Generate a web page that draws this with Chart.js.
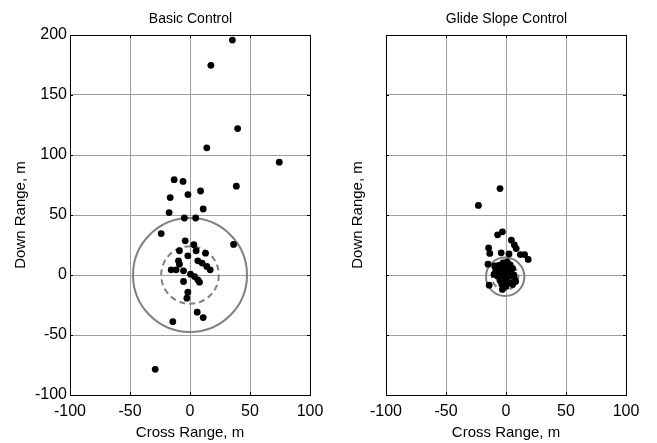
<!DOCTYPE html>
<html>
<head>
<meta charset="utf-8">
<script src="https://cdn.jsdelivr.net/npm/chart.js@4/dist/chart.umd.min.js"></script>
<style>
html,body{margin:0;padding:0;background:#fff;overflow:hidden;width:657px;height:443px;}
.box{position:absolute;top:0;width:381px;height:443px;}
#b1{left:0;} #b2{left:316px;}
</style>
</head>
<body>
<div class="box" id="b1"><canvas id="c1" width="381" height="443"></canvas></div>
<div class="box" id="b2"><canvas id="c2" width="381" height="443"></canvas></div>
<script>
// ---- data ----
const titles = ['Basic Control', 'Glide Slope Control'];
const xTitle = 'Cross Range, m';
const yTitle = 'Down Range, m';
const xTickValues = [-100, -50, 0, 50, 100];
const yTickValues = [-100, -50, 0, 50, 100, 150, 200];

const basicX = [35.3, 17.4, 39.7, 14, 74.4, -13.2, -5.8, 38.6, 8.8, -1.7, -16.5, 11, -17.4, -4.7, 4.7,
  -24, 36.3, -4, 3.2, -8.8, 5.1, 12.9, -1.8, -9.6, -8.8, 6.5, 10.1, 14, 16.8, -15.7, -11.5, -5.4,
  0.4, 3.8, 6.5, 7.9, -5.4, -1.8, -2.6, 6, 11, -14.3, -29];
const basicY = [195.8, 174.7, 122, 106, 94, 79.4, 78, 74, 70, 67, 64.5, 55, 52, 47.5, 47.5,
  34.5, 25.5, 28.5, 25.2, 20.2, 20.2, 18.2, 16, 11.8, 9, 11.8, 9.9, 7.1, 4.3, 4.3, 4.3, 3.5,
  0.7, -1.3, -4, -6, -5.4, -14.3, -19.3, -31, -35.5, -38.9, -78.6];

const glideX = [-5, -23, -3, -7, 4.5, 7, 8.5, -14.5, -13.5, -4, 2.5, 12, 15.5, 18.5, -15, -14, 5.5, -3, 8,
  -6, -2.5, 1, 3.5, 5.5, -8.5, -5, -2, 1.5, 4, -7, -4, -1, 2, 6.5, -5, -2, 1, 3.5, -3.5, 0, 7, -9.5, -10, 0, -1, 2.5];
const glideY = [72, 58, 36, 33.5, 29, 25, 22, 22.5, 18, 18.5, 17.5, 17, 17, 13, 9, -8.5, -8, -12, -5.5,
  8, 10, 11, 8.5, 5.5, 4, 3, 5.5, 4, 1.5, -1, 0.5, 1.5, -1, 0, -4.5, -3, -5.5, -6.5, -8, -9.5, -3, 7.5, 0.5, 7, -2, 2.5];

// reference rings: center x, center y, radius (m)
const basicRingCx = [0, 0];
const basicRingCy = [0, 0];
const basicRingR = [47.5, 24];
const glideRingCx = [-0.7, -0.7];
const glideRingCy = [-1.5, -1.5];
const glideRingR = [16, 11];
const ringDashed = [false, true];

// ---- helpers ----
const FONT = "'Liberation Sans', Arial, Helvetica, sans-serif";
function pts(xs, ys) { return xs.map((x, i) => ({x: x, y: ys[i]})); }

const framePlugin = {
  id: 'frame',
  beforeDatasetDraw(chart, args) {
    const ds = chart.data.datasets[args.index];
    if (ds.dashed) chart.ctx.setLineDash([6, 4]);
  },
  afterDatasetDraw(chart, args) {
    chart.ctx.setLineDash([]);
  },
  afterDraw(chart) {
    const ctx = chart.ctx, a = chart.chartArea;
    const xs = chart.scales.x, ys = chart.scales.y;
    ctx.save();
    ctx.strokeStyle = '#000';
    ctx.lineWidth = 1;
    ctx.strokeRect(Math.round(a.left) + 0.5, Math.round(a.top) + 0.5,
      Math.round(a.right - a.left), Math.round(a.bottom - a.top));
    ctx.beginPath();
    xTickValues.forEach(v => {
      const p = Math.round(xs.getPixelForValue(v)) + 0.5;
      ctx.moveTo(p, a.bottom); ctx.lineTo(p, a.bottom - 3);
      ctx.moveTo(p, a.top); ctx.lineTo(p, a.top + 3);
    });
    yTickValues.forEach(v => {
      const p = Math.round(ys.getPixelForValue(v)) + 0.5;
      ctx.moveTo(a.left, p); ctx.lineTo(a.left + 3, p);
      ctx.moveTo(a.right, p); ctx.lineTo(a.right - 3, p);
    });
    ctx.stroke();
    ctx.restore();
  }
};

function ringRadius(r) {
  return (ctx) => {
    const s = ctx.chart.scales.x;
    return Math.abs(s.getPixelForValue(r) - s.getPixelForValue(0));
  };
}

function makeChart(id, idx, xs, ys, rcx, rcy, rr, yTitlePad, showYTicks) {
  const datasets = [{
    data: pts(xs, ys),
    pointRadius: 3.4,
    pointBackgroundColor: '#000',
    pointBorderWidth: 0,
    pointHoverRadius: 3.4
  }];
  rr.forEach((r, i) => {
    datasets.push({
      data: [{x: rcx[i], y: rcy[i]}],
      dashed: ringDashed[i],
      pointRadius: ringRadius(r),
      pointHoverRadius: ringRadius(r),
      pointBackgroundColor: 'rgba(0,0,0,0)',
      pointBorderColor: '#808080',
      pointBorderWidth: 2,
      clip: false
    });
  });
  return new Chart(document.getElementById(id), {
    type: 'scatter',
    data: {datasets: datasets},
    plugins: [framePlugin],
    options: {
      responsive: false,
      animation: false,
      devicePixelRatio: 1,
      events: [],
      layout: {padding: 0},
      plugins: {
        legend: {display: false},
        tooltip: {enabled: false},
        title: {
          display: true,
          text: titles[idx],
          color: '#000',
          font: {family: FONT, size: 14, weight: 'normal'},
          padding: {top: 11, bottom: 7.2}
        }
      },
      scales: {
        x: {
          type: 'linear',
          min: xTickValues[0], max: xTickValues[xTickValues.length - 1],
          afterBuildTicks: (s) => { s.ticks = xTickValues.map(v => ({value: v})); },
          afterFit: (s) => { s.height = 48; },
          grid: {color: '#a0a0a0', lineWidth: 1, drawTicks: false},
          border: {display: true, color: '#000'},
          ticks: {color: '#000', font: {family: FONT, size: 16}, padding: 7, maxRotation: 0},
          title: {display: true, text: xTitle, color: '#000', font: {family: FONT, size: 15}, padding: {top: 0, bottom: 1}}
        },
        y: {
          type: 'linear',
          min: yTickValues[0], max: yTickValues[yTickValues.length - 1],
          afterBuildTicks: (s) => { s.ticks = yTickValues.map(v => ({value: v})); },
          afterFit: (s) => { s.width = 70; },
          grid: {color: '#a0a0a0', lineWidth: 1, drawTicks: false},
          border: {display: true, color: '#000'},
          ticks: {display: showYTicks, color: '#000', font: {family: FONT, size: 16}, padding: 3},
          title: {display: true, text: yTitle, color: '#000', font: {family: FONT, size: 15}, padding: {top: yTitlePad, bottom: 0}}
        },
        pad: {
          type: 'linear',
          position: 'right',
          display: true,
          grid: {display: false, drawTicks: false},
          border: {display: false},
          ticks: {display: false},
          afterFit: (s) => { s.width = 71; }
        }
      }
    }
  });
}

makeChart('c1', 0, basicX, basicY, basicRingCx, basicRingCy, basicRingR, 12, true);
makeChart('c2', 1, glideX, glideY, glideRingCx, glideRingCy, glideRingR, 33, false);
</script>
</body>
</html>
